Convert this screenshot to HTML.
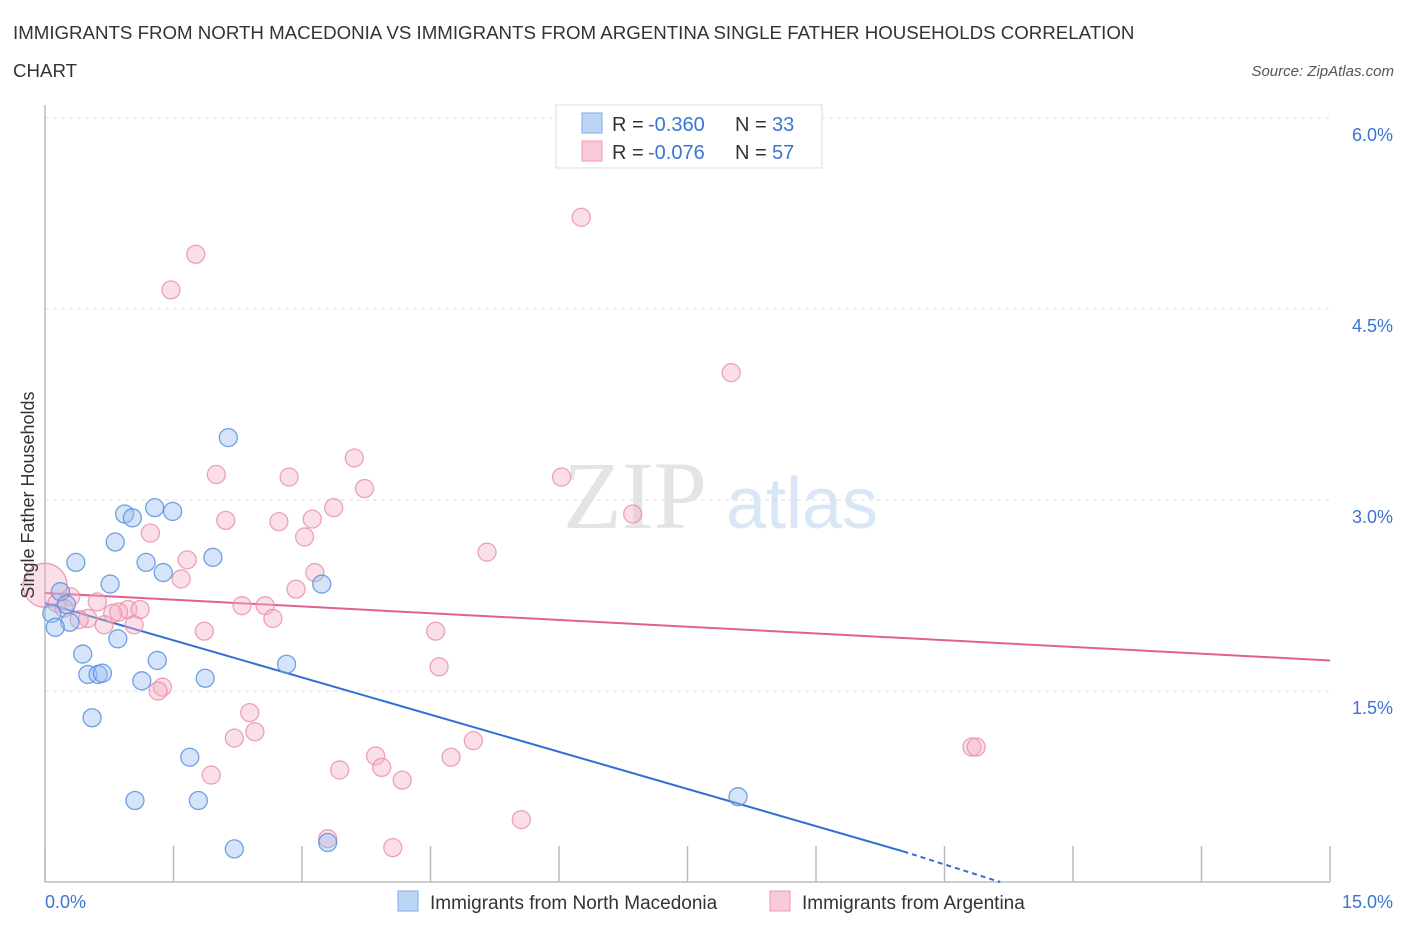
<!DOCTYPE html>
<html><head><meta charset="utf-8"><style>
body{margin:0;background:#fff;font-family:"Liberation Sans",sans-serif;}
</style></head><body>
<svg id="chart" width="1406" height="930" xmlns="http://www.w3.org/2000/svg">
<text x="13" y="39" font-size="18.7" fill="#333">IMMIGRANTS FROM NORTH MACEDONIA VS IMMIGRANTS FROM ARGENTINA SINGLE FATHER HOUSEHOLDS CORRELATION</text>
<text x="13" y="77" font-size="18.7" fill="#333">CHART</text>
<text x="1394" y="76" font-size="15" fill="#555" font-style="italic" text-anchor="end">Source: ZipAtlas.com</text>
<text x="635" y="528" font-size="96" fill="#e4e4e4" font-family="Liberation Serif,serif" text-anchor="middle">ZIP</text>
<text x="802" y="528" font-size="72" fill="#d8e6f6" text-anchor="middle">atlas</text>
<g id="grid"></g><g id="axes"></g><g id="trend"></g><g id="pts"></g>
<text transform="translate(34,495) rotate(-90)" font-size="18" fill="#333" text-anchor="middle">Single Father Households</text>
<g>
<rect x="556" y="105" width="266" height="63" fill="#fff" stroke="#ddd"/>
<rect x="582" y="113" width="20" height="20" fill="#bcd4f6" stroke="#7eaae6"/>
<text x="612" y="131" font-size="20" fill="#333">R =</text>
<text x="648" y="131" font-size="20" fill="#3a75d4">-0.360</text>
<text x="735" y="131" font-size="20" fill="#333">N =</text>
<text x="772" y="131" font-size="20" fill="#3a75d4">33</text>
<rect x="582" y="141" width="20" height="20" fill="#f8c9d6" stroke="#ee9ab5"/>
<text x="612" y="159" font-size="20" fill="#333">R =</text>
<text x="648" y="159" font-size="20" fill="#3a75d4">-0.076</text>
<text x="735" y="159" font-size="20" fill="#333">N =</text>
<text x="772" y="159" font-size="20" fill="#3a75d4">57</text>
</g>
<g>
<rect x="398" y="891" width="20" height="20" fill="#bcd4f6" stroke="#7eaae6"/>
<text x="430" y="909" font-size="19" fill="#333">Immigrants from North Macedonia</text>
<rect x="770" y="891" width="20" height="20" fill="#f8c9d6" stroke="#ee9ab5"/>
<text x="802" y="909" font-size="19" fill="#333">Immigrants from Argentina</text>
</g>
</svg>
<script>
const blueX=[2.14,1.28,1.49,0.93,1.02,0.82,1.96,0.36,1.18,1.38,0.76,3.23,0.18,0.25,0.08,0.29,0.12,0.85,0.44,1.31,2.82,0.50,0.62,0.67,1.13,1.87,0.55,1.69,1.05,1.79,8.09,2.21,3.30];
const blueY=[3.49,2.94,2.91,2.89,2.86,2.67,2.55,2.51,2.51,2.43,2.34,2.34,2.28,2.18,2.11,2.04,2.00,1.91,1.79,1.74,1.71,1.63,1.63,1.64,1.58,1.60,1.29,0.98,0.64,0.64,0.67,0.26,0.31];
const pinkX=[6.26,1.76,1.47,8.01,3.61,6.03,2.00,2.85,3.73,3.37,6.86,2.11,2.73,3.12,1.23,3.03,5.16,1.66,3.15,1.59,2.93,0.00,0.30,0.14,0.61,0.22,2.30,2.57,0.97,1.11,0.79,0.86,0.50,0.40,0.69,1.04,2.66,1.86,4.56,4.60,1.37,1.32,2.39,2.45,2.21,5.00,3.86,4.74,3.44,3.93,1.94,4.17,10.82,10.87,5.56,3.30,4.06];
const pinkY=[5.22,4.93,4.65,4.00,3.33,3.18,3.20,3.18,3.09,2.94,2.89,2.84,2.83,2.85,2.74,2.71,2.59,2.53,2.43,2.38,2.30,2.33,2.24,2.19,2.20,2.15,2.17,2.17,2.14,2.14,2.11,2.12,2.07,2.06,2.02,2.02,2.07,1.97,1.97,1.69,1.53,1.50,1.33,1.18,1.13,1.11,0.99,0.98,0.88,0.90,0.84,0.80,1.06,1.06,0.49,0.34,0.27];
const blueTrend=[[0,2.19],[10.02,0.24]];
const blueTrendDash=[[10.02,0.24],[11.15,0.0]];
const pinkTrend=[[0,2.27],[15,1.74]];
const yTicks=[1.5,3.0,4.5,6.0];
const yTickLabels=["1.5%","3.0%","4.5%","6.0%"];
const xTicks=[0,1.5,3,4.5,6,7.5,9,10.5,12,13.5,15];
const xLabels=[[0,"0.0%"],[15,"15.0%"]];
const NS="http://www.w3.org/2000/svg";
const X=v=>45+v/15*1285, Y=v=>882-v/1.5*191;
function mk(tag,attrs,parent){const e=document.createElementNS(NS,tag);for(const k in attrs)e.setAttribute(k,attrs[k]);document.getElementById(parent).appendChild(e);return e;}
yTicks.forEach((t,i)=>{
 const l=mk('line',{x1:45,x2:1330,y1:Y(t),y2:Y(t),stroke:'#ddd','stroke-dasharray':'4,4'},'grid');
 
 
 const tx=mk('text',{x:1393,y:Y(t)+23,'font-size':18,fill:'#3a75d4','text-anchor':'end'},'grid');
 tx.textContent=yTickLabels[i];
 
 
});
const ax=mk('line',{x1:45,x2:45,y1:105,y2:882,stroke:'#bbb','stroke-width':1.5},'axes');


const bx=mk('line',{x1:45,x2:1330,y1:882,y2:882,stroke:'#bbb','stroke-width':1.5},'axes');


xTicks.forEach(t=>{
 const l=mk('line',{x1:X(t),x2:X(t),y1:846,y2:882,stroke:'#bbb','stroke-width':1.5},'axes');
 
 
});
xLabels.forEach(([v,s],i)=>{
 const tx=mk('text',{x:i?1393:45,y:908,'font-size':18,fill:'#3a75d4','text-anchor':i?'end':'start'},'axes');
 tx.textContent=s;
 
 
});
function pt(x,y,r,fill,stroke,name){
 const c=mk('circle',{cx:X(x),cy:Y(y),r:r,fill:fill,stroke:stroke,'stroke-width':1.3},'pts');
 
 
}
pinkX.forEach((x,i)=>pt(x,pinkY[i],x===0?22:9,'rgba(244,176,198,0.4)','rgba(232,140,170,0.8)','argentina-point'));
blueX.forEach((x,i)=>pt(x,blueY[i],9,'rgba(150,188,240,0.4)','rgba(90,145,225,0.85)','north-macedonia-point'));
function line(p,stroke,dash,name){
 const l=mk('line',{x1:X(p[0][0]),y1:Y(p[0][1]),x2:X(p[1][0]),y2:Y(p[1][1]),stroke:stroke,'stroke-width':2},'trend');
 if(dash)l.setAttribute('stroke-dasharray',dash);
 
 
}
line(pinkTrend,'#e0628c',null,'argentina-trend-line');
line(blueTrend,'#2f6fd6',null,'north-macedonia-trend-line');
line(blueTrendDash,'#2f6fd6','5,4','north-macedonia-trend-extension');
</script>
</body></html>
